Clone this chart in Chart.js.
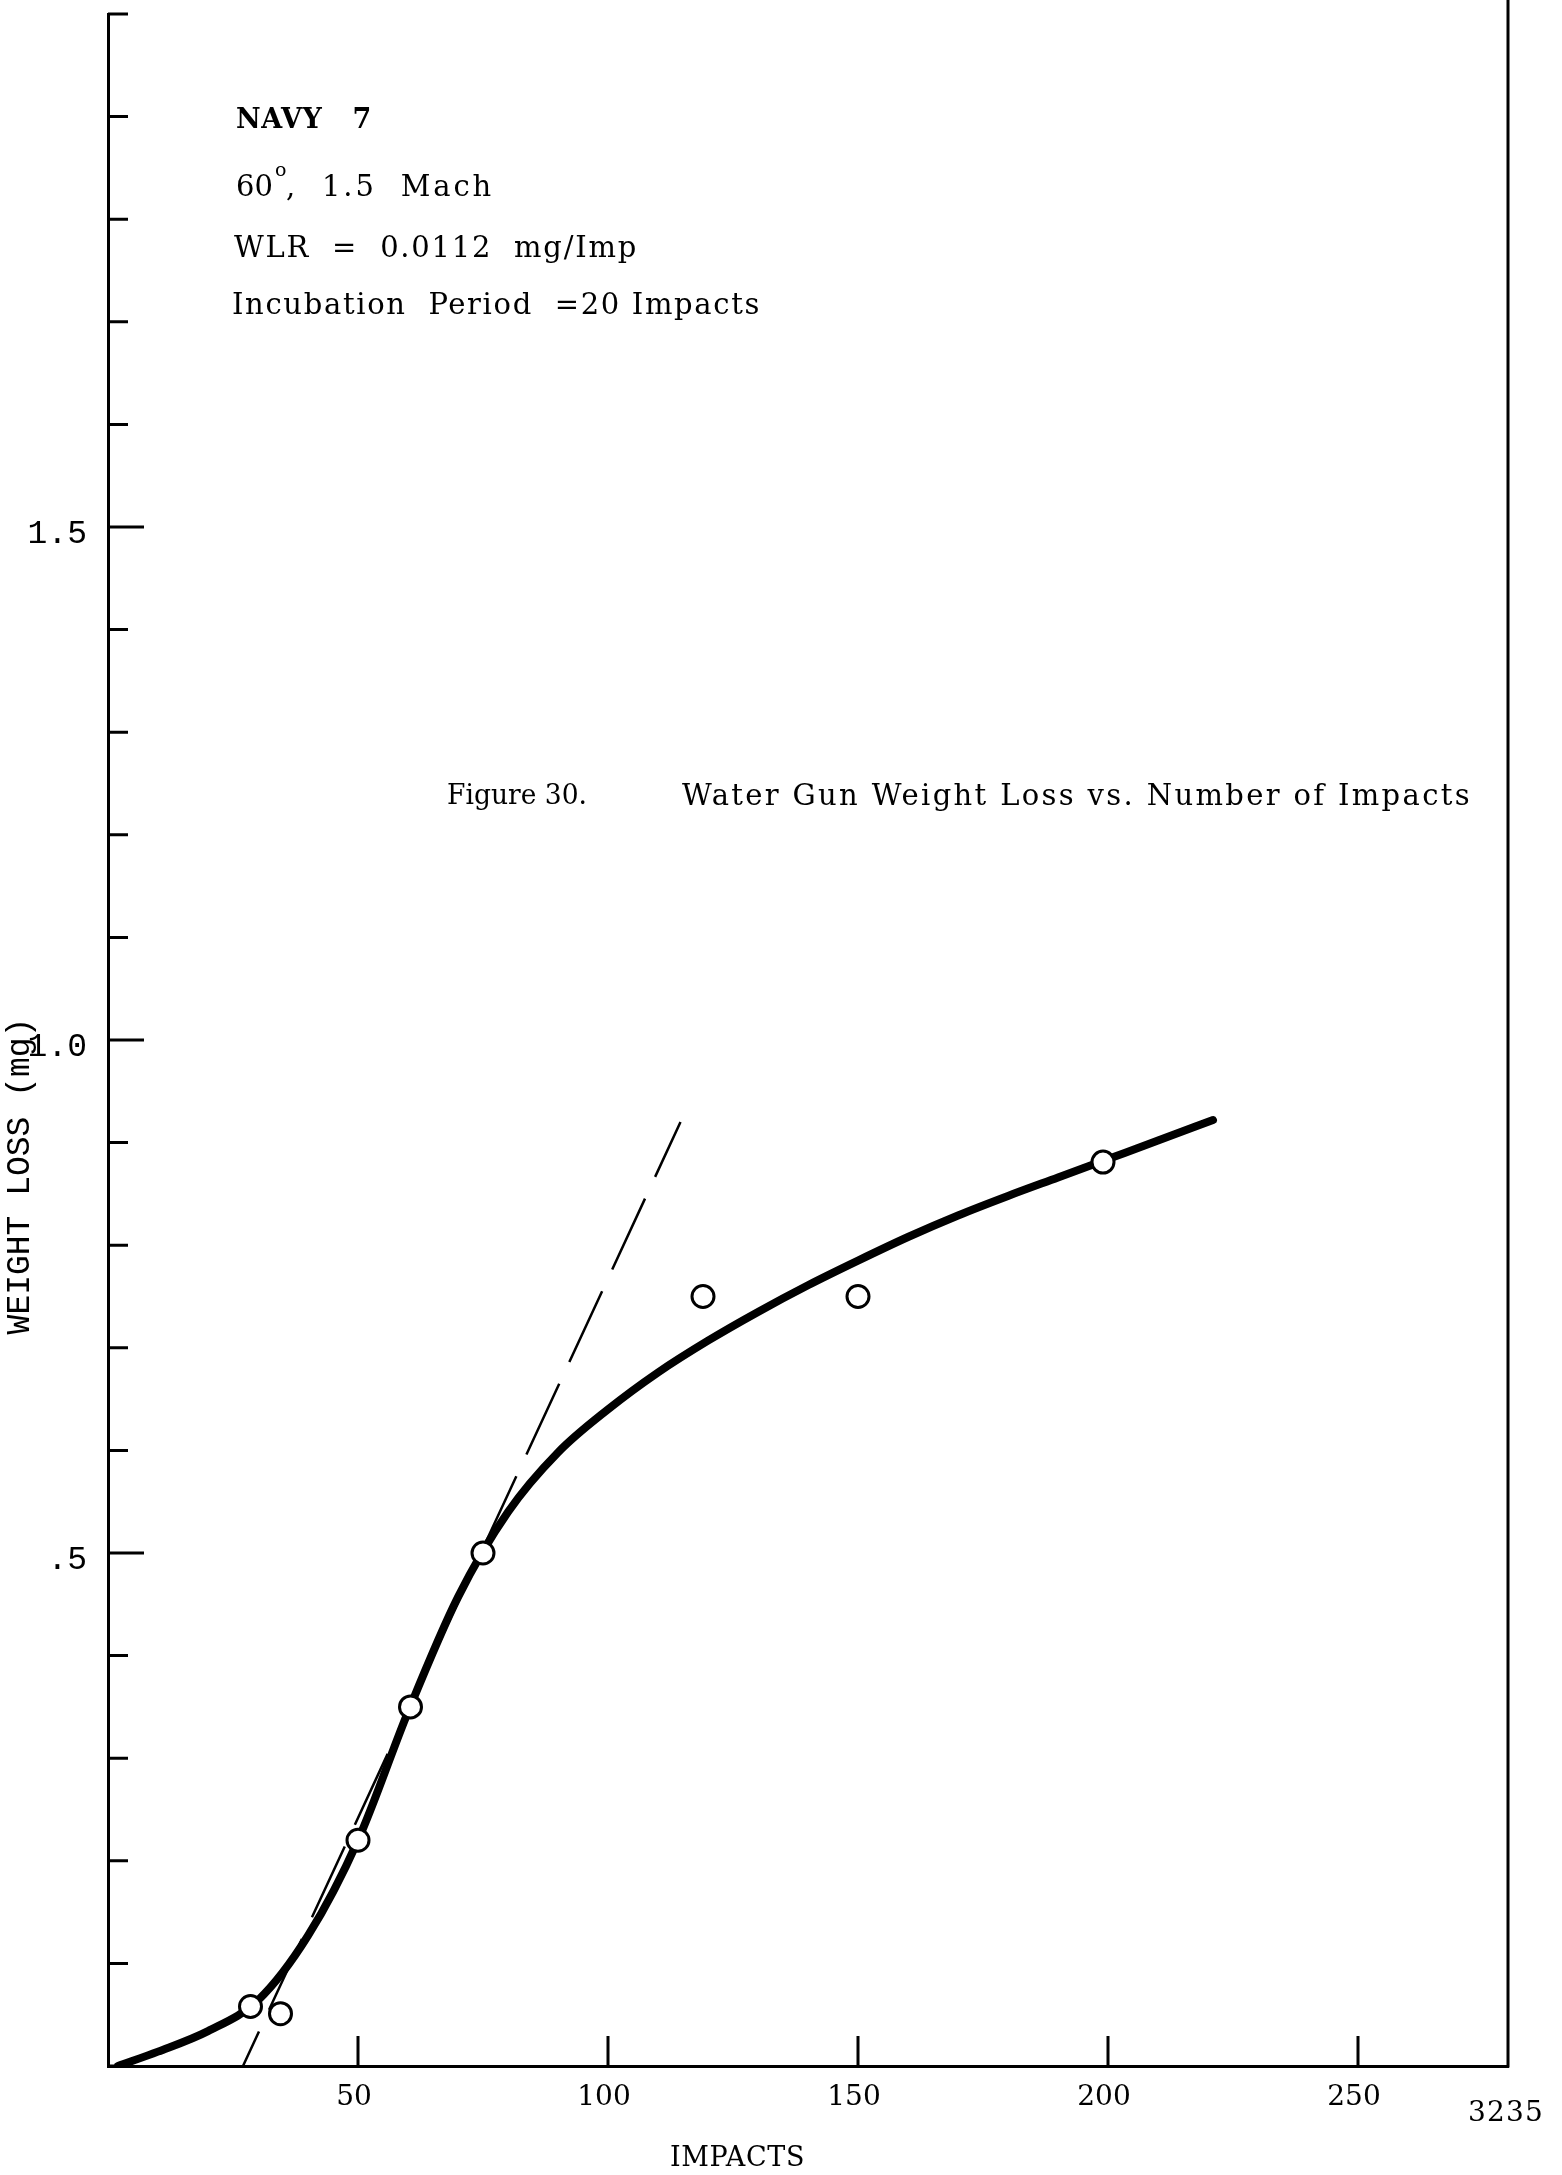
<!DOCTYPE html>
<html>
<head>
<meta charset="utf-8">
<title>Water Gun Weight Loss vs. Number of Impacts</title>
<script src="https://cdn.jsdelivr.net/npm/chart.js@4.4.1/dist/chart.umd.min.js"></script>
<style>
  html, body { margin: 0; padding: 0; background: #fff; }
  #wrap { width: 1562px; height: 2175px; position: relative; }
</style>
</head>
<body>
<div id="wrap"><canvas id="chart" width="1562" height="2175"></canvas></div>
<script>
// measured points (impacts, mg)
const pointImpacts = [28.5, 34.5, 50, 60.5, 75, 119, 150, 199];
const pointLoss = [0.058, 0.051, 0.22, 0.35, 0.50, 0.75, 0.75, 0.881];

// faired curve drawn through the points
const curveImpacts = [2, 10, 20, 30, 40, 50, 60, 70, 80, 90, 100, 110, 120, 130, 140, 150, 160, 170, 180, 190, 200, 210, 221];
const curveLoss = [0, 0.014, 0.034, 0.064, 0.127, 0.22, 0.345, 0.457, 0.54, 0.598, 0.64, 0.676, 0.707, 0.735, 0.761, 0.785, 0.808, 0.829, 0.848, 0.866, 0.884, 0.902, 0.922];

// dashed tangent (weight loss rate)
const tangentImpacts = [27, 114.5];
const tangentLoss = [0, 0.92];

// axis ticks
const xTickValues = [50, 100, 150, 200, 250];
const xTickLabels = ['50', '100', '150', '200', '250'];
const yTickValues = [0, 0.1, 0.2, 0.3, 0.4, 0.5, 0.6, 0.7, 0.8, 0.9, 1.0,
                     1.1, 1.2, 1.3, 1.4, 1.5, 1.6, 1.7, 1.8, 1.9, 2.0];
const yLabelValues = [0.5, 1.0, 1.5];
const yLabelText = ['.5', '1.0', '1.5'];

const toXY = (xs, ys) => xs.map((x, i) => ({ x: x, y: ys[i] }));

// typewriter text: spread or squeeze a line to the width it has on the sheet
function fitText(ctx, text, x, y, width, font) {
  ctx.save();
  ctx.font = font;
  const natural = ctx.measureText(text).width;
  if (natural > width) {
    ctx.translate(x, y);
    ctx.scale(width / natural, 1);
    ctx.fillText(text, 0, 0);
  } else {
    ctx.letterSpacing = ((width - natural) / Math.max(text.length, 1)) + 'px';
    ctx.fillText(text, x, y);
  }
  ctx.restore();
}

function noPadding(s) {
  s.paddingTop = 0;
  s.paddingBottom = 0;
  s.paddingLeft = 0;
  s.paddingRight = 0;
}

// tick marks point into the plot, plus the right frame line
const frame = {
  id: 'frame',
  afterDraw(chart) {
    const { ctx, chartArea, scales } = chart;
    ctx.save();
    ctx.strokeStyle = '#000';
    ctx.lineWidth = 3;
    ctx.lineCap = 'butt';
    ctx.beginPath();
    scales.y.ticks.forEach(t => {
      const py = scales.y.getPixelForValue(t.value);
      const len = yLabelValues.some(v => Math.abs(v - t.value) < 1e-6) ? 36 : 20;
      ctx.moveTo(chartArea.left, py);
      ctx.lineTo(chartArea.left + len, py);
    });
    scales.x.ticks.forEach(t => {
      const px = scales.x.getPixelForValue(t.value);
      ctx.moveTo(px, chartArea.bottom);
      ctx.lineTo(px, chartArea.bottom - 30);
    });
    ctx.moveTo(chartArea.right, 0);
    ctx.lineTo(chartArea.right, chartArea.bottom + 1.5);
    ctx.stroke();
    ctx.restore();
  }
};

const annotations = {
  id: 'annotations',
  afterDraw(chart) {
    const ctx = chart.ctx;
    ctx.save();
    ctx.fillStyle = '#000';
    ctx.textBaseline = 'middle';
    ctx.textAlign = 'left';

    const serif = '"DejaVu Serif", "Liberation Serif", serif';
    fitText(ctx, 'NAVY   7', 236, 121, 136, 'bold 27px ' + serif);

    ctx.font = '29px ' + serif;
    ctx.fillText('60', 236, 188);
    const w60 = ctx.measureText('60').width;
    ctx.font = '19px ' + serif;
    ctx.fillText('o', 236 + w60 + 2, 171);
    fitText(ctx, ',  1.5  Mach', 236 + w60 + 13, 188, 494 - (236 + w60 + 13), '29px ' + serif);

    fitText(ctx, 'WLR  =  0.0112  mg/Imp', 234, 249, 404, '29px ' + serif);
    fitText(ctx, 'Incubation  Period  =20 Impacts', 232, 306, 529, '29px ' + serif);

    fitText(ctx, 'Figure 30.', 447, 797, 140, '27px ' + serif);
    fitText(ctx, 'Water Gun Weight Loss vs. Number of Impacts', 682, 797, 790, '29px ' + serif);

    fitText(ctx, 'IMPACTS', 670, 2159, 135, '27px ' + serif);
    fitText(ctx, '3235', 1468, 2114, 76, '28px ' + serif);

    // y axis title, reading upwards
    ctx.translate(20, 1176);
    ctx.rotate(-Math.PI / 2);
    ctx.textAlign = 'center';
    ctx.font = '33px "Liberation Mono", "DejaVu Sans Mono", monospace';
    ctx.fillText('WEIGHT LOSS (mg)', 0, 0);
    ctx.restore();
  }
};

new Chart(document.getElementById('chart'), {
  type: 'scatter',
  data: {
    datasets: [
      {
        label: 'Measured',
        data: toXY(pointImpacts, pointLoss),
        pointStyle: 'circle',
        pointRadius: 11,
        pointBorderWidth: 3,
        pointBackgroundColor: '#fff',
        pointBorderColor: '#000',
        showLine: false
      },
      {
        label: 'Curve',
        data: toXY(curveImpacts, curveLoss),
        showLine: true,
        borderColor: '#000',
        borderWidth: 8,
        borderCapStyle: 'round',
        cubicInterpolationMode: 'monotone',
        pointRadius: 0
      },
      {
        label: 'WLR',
        data: toXY(tangentImpacts, tangentLoss),
        showLine: true,
        borderColor: '#000',
        borderWidth: 2.5,
        borderDash: [78, 24],
        borderDashOffset: 40,
        pointRadius: 0
      }
    ]
  },
  options: {
    responsive: false,
    animation: false,
    layout: { padding: { top: 11, right: 54, left: 0, bottom: 0 } },
    plugins: {
      legend: { display: false },
      tooltip: { enabled: false }
    },
    scales: {
      x: {
        type: 'linear',
        min: 0,
        max: 280,
        afterFit: s => { s.height = 109; noPadding(s); },
        afterBuildTicks: s => { s.ticks = xTickValues.map(v => ({ value: v })); },
        grid: { display: true, drawOnChartArea: false, drawTicks: false },
        border: { display: true, color: '#000', width: 3 },
        ticks: {
          color: '#000',
          padding: 15,
          labelOffset: -4,
          maxRotation: 0,
          autoSkip: false,
          font: { family: '"DejaVu Serif", "Liberation Serif", serif', size: 28 },
          callback: (v, i) => xTickLabels[i]
        }
      },
      y: {
        type: 'linear',
        min: 0,
        max: 2.0,
        afterFit: s => { s.width = 108; noPadding(s); },
        afterBuildTicks: s => { s.ticks = yTickValues.map(v => ({ value: v })); },
        grid: { display: true, drawOnChartArea: false, drawTicks: false },
        border: { display: true, color: '#000', width: 3 },
        ticks: {
          color: '#000',
          padding: 21,
          labelOffset: 7,
          autoSkip: false,
          font: { family: '"Liberation Mono", "DejaVu Sans Mono", monospace', size: 33 },
          callback: function (v) {
            const k = yLabelValues.findIndex(t => Math.abs(t - v) < 1e-6);
            return k >= 0 ? yLabelText[k] : '';
          }
        }
      }
    }
  },
  plugins: [frame, annotations]
});
</script>
</body>
</html>
